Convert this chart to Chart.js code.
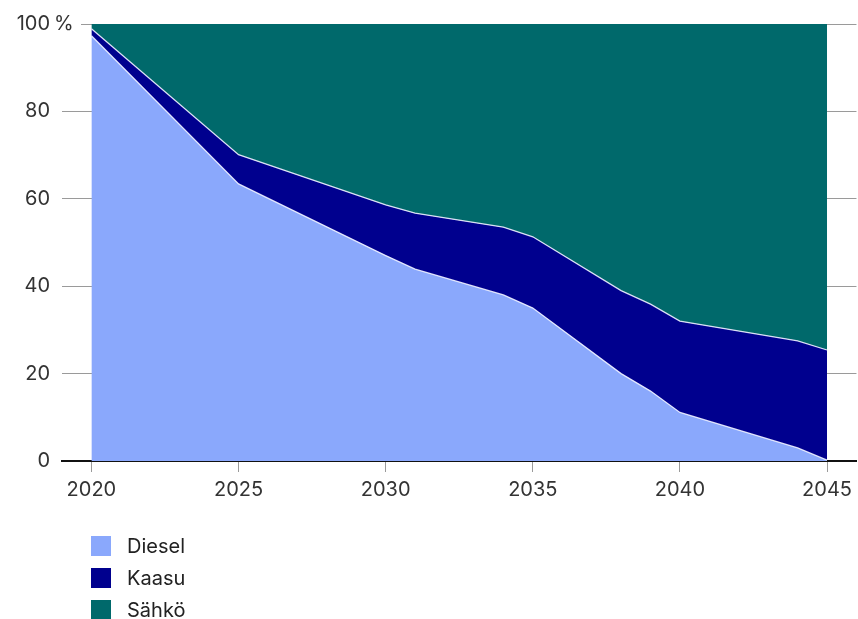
<!DOCTYPE html>
<html>
<head>
<meta charset="utf-8">
<script src="https://cdn.jsdelivr.net/npm/chart.js@4/dist/chart.umd.min.js"></script>
<style>
  html, body { margin: 0; padding: 0; background: #fff; }
  #wrap { position: relative; width: 858px; height: 619px; }
  #legend { position: absolute; left: 91px; top: 530px; font-family: Inter, "Liberation Sans", sans-serif; font-size: 20px; color: #222; }
  .item { display: flex; align-items: center; height: 32px; }
  .sw { width: 20px; height: 20px; margin-right: 16px; }
</style>
</head>
<body>
<div id="wrap">
  <canvas id="c" width="858" height="619"></canvas>
  <div id="legend"></div>
</div>
<script>
const years = [2020, 2025, 2030, 2031, 2034, 2035, 2038, 2039, 2040, 2044, 2045];
const diesel = [97.3, 63.4, 47.0, 43.9, 38.0, 35.0, 20.0, 16.0, 11.1, 3.0, 0.2];
const kaasu  = [1.6, 6.7, 11.6, 12.8, 15.5, 16.3, 19.0, 19.9, 20.9, 24.5, 25.2];
const sahko  = [1.1, 29.9, 41.4, 43.3, 46.5, 48.7, 61.0, 64.1, 68.0, 72.5, 74.6];
const xTicks = [2020, 2025, 2030, 2035, 2040, 2045];
const yTicks = [0, 20, 40, 60, 80, 100];
const seriesNames = ['Diesel', 'Kaasu', 'Sähkö'];
const colors = ['#8aa8fc', '#00008e', '#00696b'];

const tickFont = { family: 'Inter, "Liberation Sans", sans-serif', size: 20 };

const percentPlugin = {
  id: 'percentLabel',
  afterDraw(chart) {
    const y = chart.scales.y;
    const ctx = chart.ctx;
    const py = y.getPixelForValue(100);
    ctx.save();
    ctx.fillStyle = '#fff';
    ctx.fillRect(chart.chartArea.left - 1, py - 2, 20, 4);
    ctx.fillStyle = '#333';
    ctx.font = '20px Inter, "Liberation Sans", sans-serif';
    ctx.textAlign = 'left';
    ctx.textBaseline = 'middle';
    ctx.fillText('%', 54, py);
    ctx.restore();
  }
};

const chart = new Chart(document.getElementById('c'), {
  type: 'line',
  data: {
    labels: years,
    datasets: [
      { label: seriesNames[0], data: diesel, backgroundColor: colors[0], borderColor: 'rgba(235,238,255,0.9)', borderWidth: 1.3, fill: 'origin', pointRadius: 0, tension: 0 },
      { label: seriesNames[1], data: kaasu, backgroundColor: colors[1], borderColor: 'rgba(235,238,255,0.9)', borderWidth: 1.3, fill: '-1', pointRadius: 0, tension: 0 },
      { label: seriesNames[2], data: sahko, backgroundColor: colors[2], borderColor: 'rgba(0,0,0,0)', borderWidth: 0, fill: '-1', pointRadius: 0, tension: 0 }
    ]
  },
  options: {
    responsive: false,
    animation: false,
    layout: { padding: { top: 23, bottom: 111, left: 0, right: 0 } },
    plugins: { legend: { display: false }, tooltip: { enabled: false } },
    scales: {
      x: {
        type: 'linear',
        min: 2019,
        max: 2046,
        z: 1,
        afterBuildTicks(scale) { scale.ticks = xTicks.map(v => ({ value: v })); },
        grid: { drawOnChartArea: false, drawTicks: true, tickLength: 11, color: '#9a9a9a', lineWidth: 1 },
        border: { color: '#111', width: 2 },
        ticks: { font: tickFont, color: '#333', padding: 6, maxRotation: 0, callback: v => String(v) }
      },
      y: {
        stacked: true,
        min: 0,
        max: 100,
        z: 1,
        afterBuildTicks(scale) { scale.ticks = yTicks.map(v => ({ value: v })); },
        afterFit(scale) { scale.width = 62; },
        grid: { drawTicks: false, color: 'rgba(120,120,120,0.75)', lineWidth: 1 },
        border: { display: false },
        ticks: { font: tickFont, color: '#333', padding: 12, callback: v => String(v) }
      }
    }
  },
  plugins: [percentPlugin]
});

const legend = document.getElementById('legend');
chart.data.datasets.forEach(ds => {
  const row = document.createElement('div');
  row.className = 'item';
  const sw = document.createElement('span');
  sw.className = 'sw';
  sw.style.background = ds.backgroundColor;
  const t = document.createElement('span');
  t.textContent = ds.label;
  row.appendChild(sw);
  row.appendChild(t);
  legend.appendChild(row);
});
</script>
</body>
</html>
